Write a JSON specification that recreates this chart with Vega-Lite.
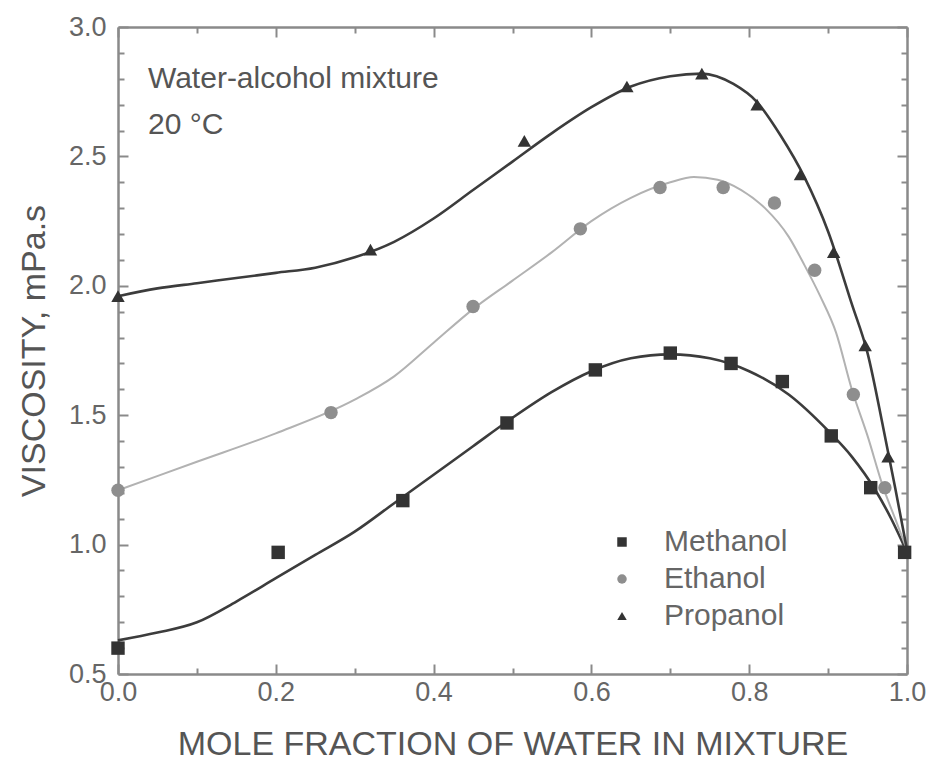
{
  "$schema": "https://vega.github.io/schema/vega-lite/v6.json",
  "width": 789,
  "height": 647,
  "autosize": {"type": "none"},
  "padding": {"left": 118, "top": 27, "right": 23, "bottom": 101},
  "background": "white",
  "config": {"view": {"stroke": null}, "font": "Liberation Sans"},
  "datasets": {
    "curves": [
      {"alcohol": "Methanol", "fraction": 0.0, "viscosity": 0.63},
      {"alcohol": "Methanol", "fraction": 0.05, "viscosity": 0.66},
      {"alcohol": "Methanol", "fraction": 0.1, "viscosity": 0.70},
      {"alcohol": "Methanol", "fraction": 0.15, "viscosity": 0.78},
      {"alcohol": "Methanol", "fraction": 0.2, "viscosity": 0.87},
      {"alcohol": "Methanol", "fraction": 0.25, "viscosity": 0.96},
      {"alcohol": "Methanol", "fraction": 0.3, "viscosity": 1.05},
      {"alcohol": "Methanol", "fraction": 0.35, "viscosity": 1.16},
      {"alcohol": "Methanol", "fraction": 0.4, "viscosity": 1.27},
      {"alcohol": "Methanol", "fraction": 0.45, "viscosity": 1.38},
      {"alcohol": "Methanol", "fraction": 0.5, "viscosity": 1.49},
      {"alcohol": "Methanol", "fraction": 0.55, "viscosity": 1.59},
      {"alcohol": "Methanol", "fraction": 0.6, "viscosity": 1.67},
      {"alcohol": "Methanol", "fraction": 0.65, "viscosity": 1.72},
      {"alcohol": "Methanol", "fraction": 0.7, "viscosity": 1.735},
      {"alcohol": "Methanol", "fraction": 0.75, "viscosity": 1.72},
      {"alcohol": "Methanol", "fraction": 0.8, "viscosity": 1.67},
      {"alcohol": "Methanol", "fraction": 0.85, "viscosity": 1.58},
      {"alcohol": "Methanol", "fraction": 0.9, "viscosity": 1.44},
      {"alcohol": "Methanol", "fraction": 0.93, "viscosity": 1.34},
      {"alcohol": "Methanol", "fraction": 0.96, "viscosity": 1.21},
      {"alcohol": "Methanol", "fraction": 0.98, "viscosity": 1.10},
      {"alcohol": "Methanol", "fraction": 1.0, "viscosity": 0.97},
      {"alcohol": "Ethanol", "fraction": 0.0, "viscosity": 1.21},
      {"alcohol": "Ethanol", "fraction": 0.1, "viscosity": 1.32},
      {"alcohol": "Ethanol", "fraction": 0.2, "viscosity": 1.43},
      {"alcohol": "Ethanol", "fraction": 0.3, "viscosity": 1.56},
      {"alcohol": "Ethanol", "fraction": 0.35, "viscosity": 1.65},
      {"alcohol": "Ethanol", "fraction": 0.4, "viscosity": 1.78},
      {"alcohol": "Ethanol", "fraction": 0.45, "viscosity": 1.91},
      {"alcohol": "Ethanol", "fraction": 0.5, "viscosity": 2.02},
      {"alcohol": "Ethanol", "fraction": 0.55, "viscosity": 2.13},
      {"alcohol": "Ethanol", "fraction": 0.6, "viscosity": 2.25},
      {"alcohol": "Ethanol", "fraction": 0.65, "viscosity": 2.34},
      {"alcohol": "Ethanol", "fraction": 0.7, "viscosity": 2.40},
      {"alcohol": "Ethanol", "fraction": 0.73, "viscosity": 2.42},
      {"alcohol": "Ethanol", "fraction": 0.76, "viscosity": 2.41},
      {"alcohol": "Ethanol", "fraction": 0.79, "viscosity": 2.37},
      {"alcohol": "Ethanol", "fraction": 0.82, "viscosity": 2.30},
      {"alcohol": "Ethanol", "fraction": 0.85, "viscosity": 2.19},
      {"alcohol": "Ethanol", "fraction": 0.87, "viscosity": 2.08},
      {"alcohol": "Ethanol", "fraction": 0.89, "viscosity": 1.96},
      {"alcohol": "Ethanol", "fraction": 0.91, "viscosity": 1.82},
      {"alcohol": "Ethanol", "fraction": 0.93, "viscosity": 1.60},
      {"alcohol": "Ethanol", "fraction": 0.95, "viscosity": 1.42},
      {"alcohol": "Ethanol", "fraction": 0.97, "viscosity": 1.22},
      {"alcohol": "Ethanol", "fraction": 0.985, "viscosity": 1.10},
      {"alcohol": "Ethanol", "fraction": 1.0, "viscosity": 0.98},
      {"alcohol": "Propanol", "fraction": 0.0, "viscosity": 1.96},
      {"alcohol": "Propanol", "fraction": 0.05, "viscosity": 1.99},
      {"alcohol": "Propanol", "fraction": 0.1, "viscosity": 2.01},
      {"alcohol": "Propanol", "fraction": 0.15, "viscosity": 2.03},
      {"alcohol": "Propanol", "fraction": 0.2, "viscosity": 2.05},
      {"alcohol": "Propanol", "fraction": 0.25, "viscosity": 2.07},
      {"alcohol": "Propanol", "fraction": 0.3, "viscosity": 2.11},
      {"alcohol": "Propanol", "fraction": 0.35, "viscosity": 2.17},
      {"alcohol": "Propanol", "fraction": 0.4, "viscosity": 2.26},
      {"alcohol": "Propanol", "fraction": 0.45, "viscosity": 2.37},
      {"alcohol": "Propanol", "fraction": 0.5, "viscosity": 2.48},
      {"alcohol": "Propanol", "fraction": 0.55, "viscosity": 2.59},
      {"alcohol": "Propanol", "fraction": 0.6, "viscosity": 2.69},
      {"alcohol": "Propanol", "fraction": 0.65, "viscosity": 2.77},
      {"alcohol": "Propanol", "fraction": 0.7, "viscosity": 2.81},
      {"alcohol": "Propanol", "fraction": 0.74, "viscosity": 2.82},
      {"alcohol": "Propanol", "fraction": 0.78, "viscosity": 2.78},
      {"alcohol": "Propanol", "fraction": 0.81, "viscosity": 2.71},
      {"alcohol": "Propanol", "fraction": 0.84, "viscosity": 2.58},
      {"alcohol": "Propanol", "fraction": 0.87, "viscosity": 2.42},
      {"alcohol": "Propanol", "fraction": 0.9, "viscosity": 2.21},
      {"alcohol": "Propanol", "fraction": 0.93, "viscosity": 1.93},
      {"alcohol": "Propanol", "fraction": 0.95, "viscosity": 1.74},
      {"alcohol": "Propanol", "fraction": 0.97, "viscosity": 1.45},
      {"alcohol": "Propanol", "fraction": 0.985, "viscosity": 1.22},
      {"alcohol": "Propanol", "fraction": 1.0, "viscosity": 0.98}
    ],
    "measurements": [
      {"alcohol": "Methanol", "fraction": 0.0, "viscosity": 0.60},
      {"alcohol": "Methanol", "fraction": 0.203, "viscosity": 0.97},
      {"alcohol": "Methanol", "fraction": 0.361, "viscosity": 1.17},
      {"alcohol": "Methanol", "fraction": 0.493, "viscosity": 1.47},
      {"alcohol": "Methanol", "fraction": 0.605, "viscosity": 1.675},
      {"alcohol": "Methanol", "fraction": 0.70, "viscosity": 1.74},
      {"alcohol": "Methanol", "fraction": 0.777, "viscosity": 1.70},
      {"alcohol": "Methanol", "fraction": 0.842, "viscosity": 1.63},
      {"alcohol": "Methanol", "fraction": 0.904, "viscosity": 1.42},
      {"alcohol": "Methanol", "fraction": 0.954, "viscosity": 1.22},
      {"alcohol": "Methanol", "fraction": 0.997, "viscosity": 0.97},
      {"alcohol": "Ethanol", "fraction": 0.0, "viscosity": 1.21},
      {"alcohol": "Ethanol", "fraction": 0.27, "viscosity": 1.51},
      {"alcohol": "Ethanol", "fraction": 0.45, "viscosity": 1.92},
      {"alcohol": "Ethanol", "fraction": 0.586, "viscosity": 2.22},
      {"alcohol": "Ethanol", "fraction": 0.687, "viscosity": 2.38},
      {"alcohol": "Ethanol", "fraction": 0.767, "viscosity": 2.38},
      {"alcohol": "Ethanol", "fraction": 0.832, "viscosity": 2.32},
      {"alcohol": "Ethanol", "fraction": 0.883, "viscosity": 2.06},
      {"alcohol": "Ethanol", "fraction": 0.932, "viscosity": 1.58},
      {"alcohol": "Ethanol", "fraction": 0.972, "viscosity": 1.22},
      {"alcohol": "Propanol", "fraction": 0.0, "viscosity": 1.96},
      {"alcohol": "Propanol", "fraction": 0.32, "viscosity": 2.14},
      {"alcohol": "Propanol", "fraction": 0.515, "viscosity": 2.56},
      {"alcohol": "Propanol", "fraction": 0.645, "viscosity": 2.77},
      {"alcohol": "Propanol", "fraction": 0.74, "viscosity": 2.82},
      {"alcohol": "Propanol", "fraction": 0.81, "viscosity": 2.70},
      {"alcohol": "Propanol", "fraction": 0.865, "viscosity": 2.43},
      {"alcohol": "Propanol", "fraction": 0.907, "viscosity": 2.13},
      {"alcohol": "Propanol", "fraction": 0.947, "viscosity": 1.77},
      {"alcohol": "Propanol", "fraction": 0.976, "viscosity": 1.34}
    ],
    "notes": [
      {"line": 1, "label": "Water-alcohol mixture"},
      {"line": 2, "label": "20 °C"}
    ]
  },
  "layer": [
    {
      "data": {"name": "curves"},
      "transform": [{"filter": "datum.alcohol === 'Methanol'"}],
      "mark": {"type": "line", "interpolate": "monotone", "color": "#3c3c3c", "strokeWidth": 2.6},
      "encoding": {
        "x": {
          "field": "fraction", "type": "quantitative",
          "scale": {"domain": [0, 1], "nice": false},
          "axis": {
            "orient": "bottom",
            "values": [0, 0.1, 0.2, 0.3, 0.4, 0.5, 0.6, 0.7, 0.8, 0.9, 1.0],
            "labelExpr": "round(datum.value * 10) % 2 === 0 ? format(datum.value, '.1f') : ''",
            "tickSize": {"condition": {"test": "round(datum.value * 10) % 2 === 0", "value": -10}, "value": -6},
            "tickColor": "#8a8a8a", "tickWidth": 2,
            "domainColor": "#8a8a8a", "domainWidth": 2.5,
            "labelFontSize": 27, "labelColor": "#666666", "labelPadding": 15,
            "labelOverlap": false, "labelFlush": false, "labelBound": false,
            "grid": false,
            "title": "MOLE FRACTION OF WATER IN MIXTURE",
            "titleFontSize": 34, "titleFontWeight": "normal", "titleColor": "#555555",
            "titlePadding": 18
          }
        },
        "y": {
          "field": "viscosity", "type": "quantitative",
          "scale": {"domain": [0.5, 3.0], "nice": false, "zero": false},
          "axis": {
            "orient": "left",
            "values": [0.5, 0.6, 0.7, 0.8, 0.9, 1.0, 1.1, 1.2, 1.3, 1.4, 1.5, 1.6, 1.7, 1.8, 1.9, 2.0, 2.1, 2.2, 2.3, 2.4, 2.5, 2.6, 2.7, 2.8, 2.9, 3.0],
            "labelExpr": "round(datum.value * 10) % 5 === 0 ? format(datum.value, '.1f') : ''",
            "tickSize": {"condition": {"test": "round(datum.value * 10) % 5 === 0", "value": -10}, "value": -6},
            "tickColor": "#8a8a8a", "tickWidth": 2,
            "domainColor": "#8a8a8a", "domainWidth": 2.5,
            "labelFontSize": 27, "labelColor": "#666666", "labelPadding": 22,
            "labelOverlap": false, "labelFlush": false, "labelBound": false,
            "grid": false,
            "title": "VISCOSITY, mPa.s",
            "titleFontSize": 34, "titleFontWeight": "normal", "titleColor": "#555555",
            "titlePadding": 17
          }
        }
      }
    },
    {
      "data": {"name": "curves"},
      "transform": [{"filter": "datum.alcohol === 'Ethanol'"}],
      "mark": {"type": "line", "interpolate": "monotone", "color": "#b2b2b2", "strokeWidth": 2},
      "encoding": {
        "x": {"field": "fraction", "type": "quantitative", "axis": null},
        "y": {"field": "viscosity", "type": "quantitative", "axis": null}
      }
    },
    {
      "data": {"name": "curves"},
      "transform": [{"filter": "datum.alcohol === 'Propanol'"}],
      "mark": {"type": "line", "interpolate": "monotone", "color": "#3c3c3c", "strokeWidth": 2.6},
      "encoding": {
        "x": {"field": "fraction", "type": "quantitative", "axis": null},
        "y": {"field": "viscosity", "type": "quantitative", "axis": null}
      }
    },
    {
      "data": {"name": "measurements"},
      "mark": {"type": "point", "filled": true, "opacity": 1},
      "encoding": {
        "x": {
          "field": "fraction", "type": "quantitative",
          "axis": {
            "orient": "top",
            "values": [0, 0.1, 0.2, 0.3, 0.4, 0.5, 0.6, 0.7, 0.8, 0.9, 1.0],
            "labels": false, "title": null, "grid": false,
            "tickSize": {"condition": {"test": "round(datum.value * 10) % 2 === 0", "value": -10}, "value": -6},
            "tickColor": "#8a8a8a", "tickWidth": 2,
            "domainColor": "#8a8a8a", "domainWidth": 2.5
          }
        },
        "y": {
          "field": "viscosity", "type": "quantitative",
          "axis": {
            "orient": "right",
            "values": [0.5, 0.6, 0.7, 0.8, 0.9, 1.0, 1.1, 1.2, 1.3, 1.4, 1.5, 1.6, 1.7, 1.8, 1.9, 2.0, 2.1, 2.2, 2.3, 2.4, 2.5, 2.6, 2.7, 2.8, 2.9, 3.0],
            "labels": false, "title": null, "grid": false,
            "tickSize": {"condition": {"test": "round(datum.value * 10) % 5 === 0", "value": -10}, "value": -6},
            "tickColor": "#8a8a8a", "tickWidth": 2,
            "domainColor": "#8a8a8a", "domainWidth": 2.5
          }
        },
        "color": {
          "field": "alcohol", "type": "nominal",
          "scale": {"domain": ["Methanol", "Ethanol", "Propanol"], "range": ["#333333", "#8e8e8e", "#333333"]},
          "legend": {
            "orient": "none", "legendX": 489, "legendY": 500, "title": null,
            "labelFontSize": 30, "labelColor": "#666666", "labelOffset": 27,
            "symbolSize": 90, "rowPadding": 7
          }
        },
        "shape": {
          "field": "alcohol", "type": "nominal",
          "scale": {"domain": ["Methanol", "Ethanol", "Propanol"], "range": ["square", "circle", "triangle-up"]},
          "legend": {
            "orient": "none", "legendX": 489, "legendY": 500, "title": null,
            "labelFontSize": 30, "labelColor": "#666666", "labelOffset": 27,
            "symbolSize": 90, "rowPadding": 7
          }
        },
        "size": {"value": 180}
      }
    },
    {
      "data": {"name": "notes"},
      "transform": [{"filter": "datum.line === 1"}],
      "mark": {"type": "text", "align": "left", "baseline": "middle", "fontSize": 30, "color": "#555555"},
      "encoding": {
        "x": {"datum": 0.038, "type": "quantitative", "axis": null},
        "y": {"datum": 2.80, "type": "quantitative", "axis": null},
        "text": {"field": "label"}
      }
    },
    {
      "data": {"name": "notes"},
      "transform": [{"filter": "datum.line === 2"}],
      "mark": {"type": "text", "align": "left", "baseline": "middle", "fontSize": 30, "color": "#555555"},
      "encoding": {
        "x": {"datum": 0.038, "type": "quantitative", "axis": null},
        "y": {"datum": 2.62, "type": "quantitative", "axis": null},
        "text": {"field": "label"}
      }
    }
  ],
  "resolve": {"axis": {"x": "independent", "y": "independent"}}
}
